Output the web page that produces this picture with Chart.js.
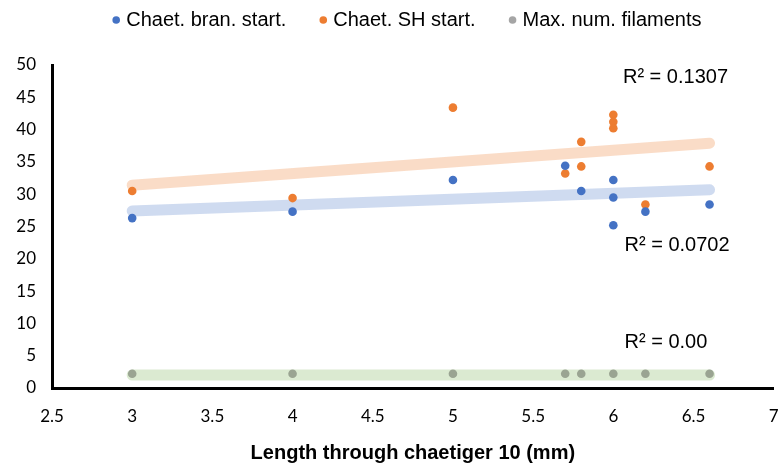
<!DOCTYPE html>
<html>
<head>
<meta charset="utf-8">
<script src="https://cdn.jsdelivr.net/npm/chart.js@4/dist/chart.umd.min.js"></script>
<style>
  html, body { margin: 0; padding: 0; background: #fff; }
  #wrap { width: 778px; height: 465px; position: relative; }
</style>
</head>
<body>
<div id="wrap"><canvas id="c" width="778" height="465"></canvas></div>
<script>
// ---- data ----
const seriesNames = ["Chaet. bran. start.", "Chaet. SH start.", "Max. num. filaments"];

const branX = [3, 4, 5, 5.7, 5.8, 6, 6, 6, 6.2, 6.6];
const branY = [26.3, 27.3, 32.2, 34.4, 30.5, 32.2, 29.5, 25.2, 27.3, 28.4];

const shX = [3, 4, 5, 5.7, 5.8, 5.8, 6, 6, 6, 6.2, 6.6];
const shY = [30.5, 29.4, 43.4, 33.2, 38.1, 34.3, 42.3, 41.2, 40.2, 28.4, 34.3];

const filX = [3, 4, 5, 5.7, 5.8, 6, 6.2, 6.6];
const filY = [2.2, 2.2, 2.2, 2.2, 2.2, 2.2, 2.2, 2.2];

// trendline end points (x from 3 to 6.6)
const trendX = [3, 6.6];
const branTrendY = [27.4, 30.7];
const shTrendY = [31.4, 37.9];
const filTrendY = [2.0, 2.0];

const r2Labels = ["R\u00B2 = 0.1307", "R\u00B2 = 0.0702", "R\u00B2 = 0.00"];
const r2Pos = [[6.06, 48.1], [6.07, 22.1], [6.07, 7.0]];

const xTicks = [2.5, 3, 3.5, 4, 4.5, 5, 5.5, 6, 6.5, 7];
const yTicks = [0, 5, 10, 15, 20, 25, 30, 35, 40, 45, 50];
const xTitle = "Length through chaetiger 10 (mm)";

const pts = (xs, ys) => xs.map((x, i) => ({ x: x, y: ys[i] }));

const BLUE = "#4472C4", ORANGE = "#ED7D31", GRAY = "#A5A5A5", GRAYPT = "#9AA492";
const legendColors = [BLUE, ORANGE, GRAY];
const TXT_FONT = "20px 'Liberation Sans', Arial, sans-serif";

const r2Plugin = {
  id: "r2",
  afterDatasetsDraw(chart) {
    const ctx = chart.ctx, xs = chart.scales.x, ys = chart.scales.y;
    ctx.save();
    ctx.font = TXT_FONT;
    ctx.fillStyle = "#000";
    ctx.textBaseline = "middle";
    ctx.textAlign = "left";
    r2Labels.forEach((t, i) => {
      ctx.fillText(t, xs.getPixelForValue(r2Pos[i][0]), ys.getPixelForValue(r2Pos[i][1]));
    });
    ctx.restore();
  }
};

const legendPlugin = {
  id: "customLegend",
  afterDraw(chart) {
    const ctx = chart.ctx, ca = chart.chartArea;
    ctx.save();
    ctx.font = TXT_FONT;
    ctx.textBaseline = "middle";
    ctx.textAlign = "left";
    const toText = 10, gap = 37, r = 3.8;
    const widths = seriesNames.map(n => ctx.measureText(n).width);
    const total = widths.reduce((a, b) => a + b, 0) + toText * 3 + gap * 2;
    const center = (ca.left + ca.right) / 2 - 4;
    let x = center - total / 2;
    const y = 20;
    seriesNames.forEach((n, i) => {
      ctx.fillStyle = legendColors[i];
      ctx.beginPath();
      ctx.arc(x, y, r, 0, Math.PI * 2);
      ctx.fill();
      ctx.fillStyle = "#000";
      ctx.fillText(n, x + toText, y);
      x += toText + widths[i] + gap;
    });
    ctx.restore();
  }
};

new Chart(document.getElementById("c"), {
  type: "scatter",
  data: {
    datasets: [
      { label: seriesNames[0], data: pts(branX, branY), backgroundColor: BLUE, borderColor: BLUE, pointRadius: 4.3, pointBorderWidth: 0, order: 0 },
      { label: seriesNames[1], data: pts(shX, shY), backgroundColor: ORANGE, borderColor: ORANGE, pointRadius: 4.3, pointBorderWidth: 0, order: 0 },
      { label: seriesNames[2], data: pts(filX, filY), backgroundColor: GRAYPT, borderColor: GRAYPT, pointRadius: 4.3, pointBorderWidth: 0, order: 0 },
      { label: "t1", type: "line", data: pts(trendX, branTrendY), borderColor: "rgba(68,114,196,0.26)", borderWidth: 11, borderCapStyle: "round", pointRadius: 0, showLine: true, fill: false, order: 5 },
      { label: "t2", type: "line", data: pts(trendX, shTrendY), borderColor: "rgba(237,125,49,0.27)", borderWidth: 11, borderCapStyle: "round", pointRadius: 0, showLine: true, fill: false, order: 5 },
      { label: "t3", type: "line", data: pts(trendX, filTrendY), borderColor: "rgba(112,173,71,0.25)", borderWidth: 11, borderCapStyle: "round", pointRadius: 0, showLine: true, fill: false, order: 5 }
    ]
  },
  options: {
    responsive: false,
    animation: false,
    devicePixelRatio: 1,
    layout: { padding: { top: 65, right: 3, left: 0, bottom: 0 } },
    plugins: {
      tooltip: { enabled: false },
      legend: { display: false }
    },
    scales: {
      x: {
        type: "linear",
        min: 2.5, max: 7,
        afterBuildTicks: (s) => { s.ticks = xTicks.map(v => ({ value: v })); },
        afterFit: (s) => { s.paddingLeft = 0; s.paddingRight = 0; s.height = 77; },
        grid: { display: false, drawTicks: false },
        border: { display: true, color: "#000", width: 3 },
        ticks: {
          color: "#000",
          padding: 18,
          maxRotation: 0,
          font: { family: "Lato, Calibri, sans-serif", size: 17 },
          callback: (v) => String(v)
        },
        title: {
          display: true,
          text: xTitle,
          color: "#000",
          font: { family: "'Liberation Sans', Arial, sans-serif", size: 20, weight: "bold" },
          padding: { top: 12, bottom: 0 }
        }
      },
      y: {
        type: "linear",
        min: 0, max: 50,
        afterBuildTicks: (s) => { s.ticks = yTicks.map(v => ({ value: v })); },
        afterFit: (s) => { s.width = 52; s.paddingTop = 0; s.paddingBottom = 0; },
        grid: { display: false, drawTicks: false },
        border: { display: true, color: "#000", width: 3 },
        ticks: {
          color: "#000",
          padding: 16,
          font: { family: "Lato, Calibri, sans-serif", size: 17 }
        }
      }
    }
  },
  plugins: [r2Plugin, legendPlugin]
});
</script>
</body>
</html>
